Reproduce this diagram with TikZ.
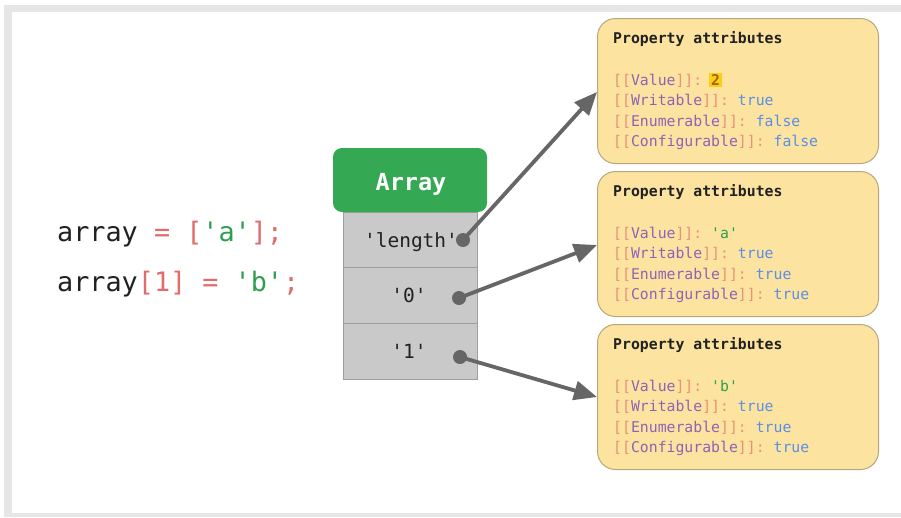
\documentclass[tikz,border=0pt]{standalone}
\usepackage{fontspec}
\setmonofont{DejaVu Sans Mono}
\usetikzlibrary{arrows.meta}
\definecolor{framegray}{HTML}{E6E6E6}
\definecolor{boxfill}{HTML}{FCE4A0}
\definecolor{boxborder}{HTML}{B8A77C}
\definecolor{cellfill}{HTML}{C9C9C9}
\definecolor{cellborder}{HTML}{9E9E9E}
\definecolor{arraygreen}{HTML}{34A853}
\definecolor{conncol}{HTML}{666666}
\definecolor{textdark}{HTML}{212121}
\definecolor{brk}{HTML}{E8907A}
\definecolor{keycol}{HTML}{8E63B5}
\definecolor{valcol}{HTML}{5B8EE6}
\definecolor{strcol}{HTML}{2E9E4F}
\definecolor{codered}{HTML}{E06C6C}
\definecolor{hlyellow}{HTML}{F7D117}
\definecolor{hltext}{HTML}{B06000}
\newcommand{\propline}[2]{\textcolor{brk}{[[}\textcolor{keycol}{#1}\textcolor{brk}{]]:} #2}
\newcommand{\hlval}[1]{\setlength{\fboxsep}{1.8pt}\kern-1.8pt\colorbox{hlyellow}{\textcolor{hltext}{\bfseries #1}}\kern-1.8pt}
\tikzset{
  propbox/.style={draw=boxborder, line width=1pt, fill=boxfill, rounded corners=18pt,
    minimum width=281pt, minimum height=145pt, anchor=north west, inner sep=0pt},
  ptext/.style={anchor=base west, inner sep=0pt, text=textdark,
    font=\ttfamily\fontsize{14.8}{17}\selectfont},
  ptitle/.style={ptext, font=\ttfamily\bfseries\fontsize{14.8}{17}\selectfont},
  cellbox/.style={draw=cellborder, fill=cellfill, line width=0.8pt,
    minimum width=134pt, minimum height=55.7pt, inner sep=0pt},
  celltext/.style={anchor=base, inner sep=0pt, text=textdark,
    font=\ttfamily\fontsize{19.5}{22}\selectfont},
  dotnode/.style={circle, fill=conncol, minimum size=14pt, inner sep=0pt},
  conn/.style={draw=conncol, line width=3.8pt, -{Triangle[length=23pt,width=19pt]}},
  codetext/.style={anchor=base west, inner sep=0pt, text=textdark,
    font=\ttfamily\fontsize{26.8}{30}\selectfont}
}
\begin{document}
\begin{tikzpicture}[x=1pt,y=-1pt]
\useasboundingbox (0,0) rectangle (901,517);
\fill[framegray] (4,5) rectangle (901,517);
\fill[white] (12,12) rectangle (901,513);

% code on the left
\node[codetext] (code1) at (57,241) {array \textcolor{codered}{= [}\textcolor{strcol}{'a'}\textcolor{codered}{];}};
\node[codetext] (code2) at (57,291) {array\textcolor{codered}{[1]} \textcolor{codered}{=} \textcolor{strcol}{'b'}\textcolor{codered}{;}};

% array object
\node[cellbox] (c1) at (410,239.85) {};
\node[cellbox] (c2) at (410,295.55) {};
\node[cellbox] (c3) at (410,351.25) {};
\node[fill=arraygreen, rounded corners=9pt, minimum width=154pt, minimum height=64pt, inner sep=0pt] (hdr) at (410,180) {};
\node[anchor=base, inner sep=0pt, text=white, font=\ttfamily\bfseries\fontsize{23.5}{26}\selectfont] (hdrlabel) at (411,190) {Array};
\node[celltext] (t1) at (411,247) {'length'};
\node[celltext] (t2) at (409,302.5) {'0'};
\node[celltext] (t3) at (409,358) {'1'};
\node[dotnode] (d1) at (463,240) {};
\node[dotnode] (d2) at (459,298) {};
\node[dotnode] (d3) at (460,357) {};

% property boxes
\node[propbox] (b1) at (597,18) {};
\node[propbox] (b2) at (597,171) {};
\node[propbox] (b3) at (597,324) {};

\node[ptitle] (p1t) at (613,43.5) {Property attributes};
\node[ptext] (p1v) at (613,85.5) {\propline{Value}{\hlval{2}}};
\node[ptext] (p1w) at (613,105.8) {\propline{Writable}{\textcolor{valcol}{true}}};
\node[ptext] (p1e) at (613,126.1) {\propline{Enumerable}{\textcolor{valcol}{false}}};
\node[ptext] (p1c) at (613,146.4) {\propline{Configurable}{\textcolor{valcol}{false}}};

\node[ptitle] (p2t) at (613,196.5) {Property attributes};
\node[ptext] (p2v) at (613,238.5) {\propline{Value}{\textcolor{strcol}{'a'}}};
\node[ptext] (p2w) at (613,258.8) {\propline{Writable}{\textcolor{valcol}{true}}};
\node[ptext] (p2e) at (613,279.1) {\propline{Enumerable}{\textcolor{valcol}{true}}};
\node[ptext] (p2c) at (613,299.4) {\propline{Configurable}{\textcolor{valcol}{true}}};

\node[ptitle] (p3t) at (613,349.5) {Property attributes};
\node[ptext] (p3v) at (613,391.5) {\propline{Value}{\textcolor{strcol}{'b'}}};
\node[ptext] (p3w) at (613,411.8) {\propline{Writable}{\textcolor{valcol}{true}}};
\node[ptext] (p3e) at (613,432.1) {\propline{Enumerable}{\textcolor{valcol}{true}}};
\node[ptext] (p3c) at (613,452.4) {\propline{Configurable}{\textcolor{valcol}{true}}};

% connectors
\coordinate (e1) at (597,92);
\coordinate (e2) at (597,245);
\coordinate (e3) at (597,397);
\draw[conn] (d1.center) -- (e1);
\draw[conn] (d2.center) -- (e2);
\draw[conn] (d3.center) -- (e3);
\end{tikzpicture}
\end{document}
